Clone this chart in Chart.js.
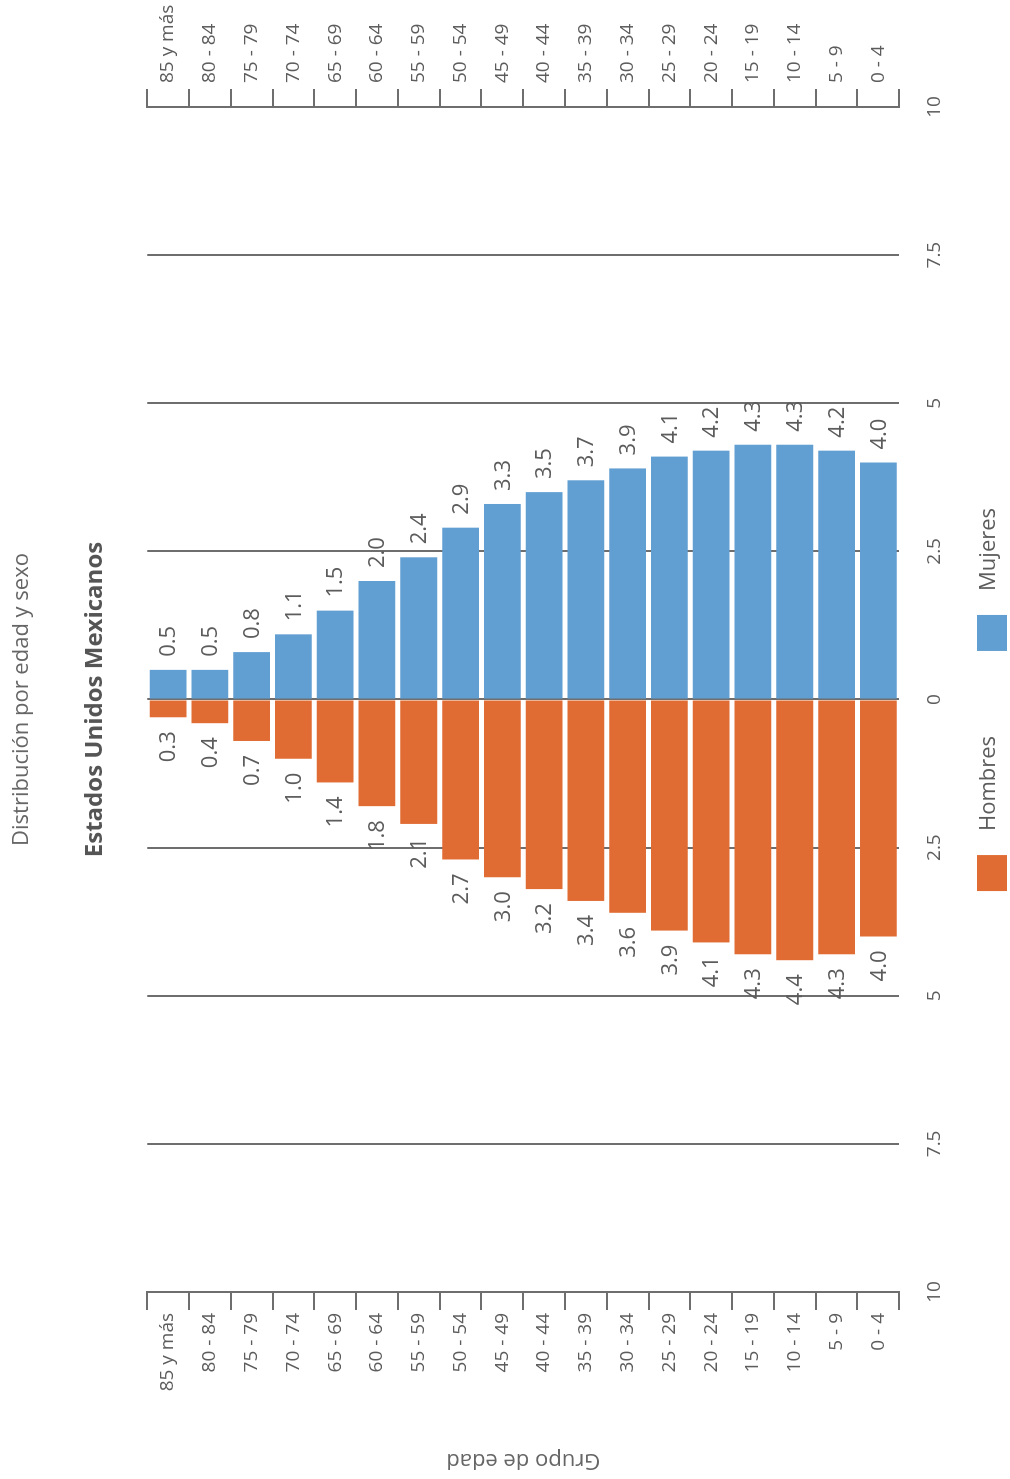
<!DOCTYPE html>
<html lang="es">
<head>
<meta charset="utf-8">
<title>Distribución por edad y sexo</title>
<script src="https://cdn.jsdelivr.net/npm/chart.js@4.4.1/dist/chart.umd.min.js"></script>
<style>
  html, body { margin: 0; padding: 0; background: #fff; }
  body { width: 1010px; height: 1479px; overflow: hidden; position: relative; }
  /* la gráfica se dibuja horizontal y se gira 90° a la izquierda */
  #giro { position: absolute; left: 0; top: 0; width: 1479px; height: 1010px;
          transform-origin: 0 0; transform: translateY(1479px) rotate(-90deg); }
</style>
</head>
<body>
<div id="giro"><canvas id="piramide" width="1479" height="1010"></canvas></div>
<script>
// grupos de edad, de mayor a menor
const grupos = ['85 y más', '80 - 84', '75 - 79', '70 - 74', '65 - 69', '60 - 64',
  '55 - 59', '50 - 54', '45 - 49', '40 - 44', '35 - 39', '30 - 34',
  '25 - 29', '20 - 24', '15 - 19', '10 - 14', '5 - 9', '0 - 4'];
// porcentaje de la población
const hombres = [0.3, 0.4, 0.7, 1.0, 1.4, 1.8, 2.1, 2.7, 3.0, 3.2, 3.4, 3.6, 3.9, 4.1, 4.3, 4.4, 4.3, 4.0];
const mujeres = [0.5, 0.5, 0.8, 1.1, 1.5, 2.0, 2.4, 2.9, 3.3, 3.5, 3.7, 3.9, 4.1, 4.2, 4.3, 4.3, 4.2, 4.0];
const limite = 10;
const paso = 2.5;

const colorLinea = '#6e6e6e';
const colorTexto = '#5c5c5c';
Chart.defaults.font.family = '"Open Sans", sans-serif';

// etiquetas de valor al final de cada barra
const etiquetasValor = {
  id: 'etiquetasValor',
  afterDatasetsDraw(chart) {
    const ctx = chart.ctx;
    ctx.save();
    ctx.font = '22px "Open Sans"';
    ctx.fillStyle = colorTexto;
    ctx.textBaseline = 'middle';
    chart.data.datasets.forEach((ds, i) => {
      chart.getDatasetMeta(i).data.forEach((barra, j) => {
        const v = ds.data[j];
        const neg = v < 0;
        ctx.textAlign = neg ? 'right' : 'left';
        ctx.fillText(Math.abs(v).toFixed(1), barra.x + (neg ? -14 : 13), barra.y + 1);
      });
    });
    ctx.restore();
  }
};

// leyenda centrada bajo el área de la gráfica
const leyenda = {
  id: 'leyenda',
  afterDraw(chart) {
    const { ctx, chartArea } = chart;
    ctx.save();
    ctx.font = '22px "Open Sans"';
    const cajaW = 36, cajaH = 30, sepTexto = 24, sepItem = 85;
    const items = chart.data.datasets.map(ds => ({
      texto: ds.label, color: ds.backgroundColor, w: ctx.measureText(ds.label).width
    }));
    const total = items.reduce((s, it) => s + cajaW + sepTexto + it.w, 0) + sepItem * (items.length - 1);
    let x = (chartArea.left + chartArea.right) / 2 - total / 2;
    const yMedio = chart.height - 18;
    ctx.textBaseline = 'middle';
    ctx.textAlign = 'left';
    items.forEach(it => {
      ctx.fillStyle = it.color;
      ctx.fillRect(x, yMedio - cajaH / 2, cajaW, cajaH);
      x += cajaW + sepTexto;
      ctx.fillStyle = colorTexto;
      ctx.fillText(it.texto, x, yMedio - 3);
      x += it.w + sepItem;
    });
    ctx.restore();
  }
};

const ejeCategorias = (ancho, relleno) => ({
  type: 'category',
  offset: true,
  afterFit: s => { s.width = ancho; },
  ticks: { color: colorTexto, font: { size: 19 }, padding: relleno, autoSkip: false },
  grid: { drawOnChartArea: false, color: colorLinea, lineWidth: 2, tickLength: 18, offset: true },
  border: { color: colorLinea, width: 2 }
});

const ejeIzq = ejeCategorias(187, 3);
ejeIzq.position = 'left';
ejeIzq.stacked = true;
ejeIzq.title = { display: true, text: 'Grupo de edad', color: '#666', font: { size: 22 }, padding: { top: 6, bottom: 0 } };

const ejeDer = ejeCategorias(107, 6);
ejeDer.position = 'right';
ejeDer.labels = grupos;

new Chart(document.getElementById('piramide'), {
  type: 'bar',
  data: {
    labels: grupos,
    datasets: [{
      label: 'Hombres',
      data: hombres.map(v => -v),
      backgroundColor: '#e06c33'
    }, {
      label: 'Mujeres',
      data: mujeres,
      backgroundColor: '#619ed2'
    }]
  },
  options: {
    indexAxis: 'y',
    responsive: false,
    animation: false,
    barPercentage: 0.88,
    categoryPercentage: 1,
    layout: { padding: { top: 0, left: 0, right: 0, bottom: 40 } },
    plugins: {
      legend: { display: false },
      tooltip: { enabled: false },
      title: {
        display: true, fullSize: false, text: 'Distribución por edad y sexo',
        color: '#666', font: { size: 22, weight: 'normal' }, padding: { top: 9, bottom: 30 }
      },
      subtitle: {
        display: true, fullSize: false, text: 'Estados Unidos Mexicanos',
        color: '#555', font: { size: 24, weight: 'bold' }, padding: { top: 15, bottom: 38 }
      }
    },
    scales: {
      x: {
        stacked: true,
        min: -limite,
        max: limite,
        ticks: { stepSize: paso, callback: v => String(Math.abs(v)), color: colorTexto, font: { size: 19 }, padding: 24, maxRotation: 0 },
        grid: { color: colorLinea, lineWidth: 2, drawTicks: false },
        border: { display: false }
      },
      y: ejeIzq,
      y2: ejeDer
    }
  },
  plugins: [etiquetasValor, leyenda]
});
</script>
</body>
</html>
